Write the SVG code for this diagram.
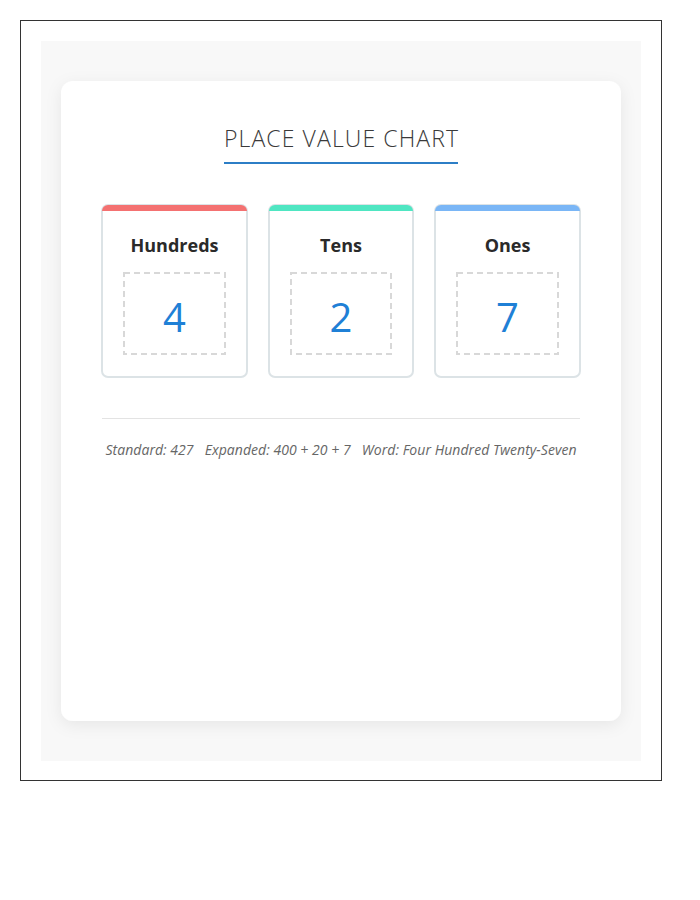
<svg xmlns="http://www.w3.org/2000/svg" width="700" height="900" viewBox="0 0 700 900">
<defs>
<filter id="sh" x="-10%" y="-10%" width="120%" height="120%">
<feDropShadow dx="0" dy="4" stdDeviation="8" flood-color="#000" flood-opacity="0.07"/>
</filter>
<clipPath id="c1"><rect x="102" y="205" width="145" height="172" rx="6"/></clipPath>
<clipPath id="c2"><rect x="269" y="205" width="144" height="172" rx="6"/></clipPath>
<clipPath id="c3"><rect x="435" y="205" width="145" height="172" rx="6"/></clipPath>
</defs>
<style>
.lbl{font-family:"Open Sans","Liberation Sans",sans-serif;font-weight:700;font-size:18px;fill:#2a2a2a;text-anchor:middle}
.num{font-family:"Open Sans","Liberation Sans",sans-serif;font-size:40px;fill:#1f80d6;text-anchor:middle}
.card{fill:#fff;stroke:#dce3e6;stroke-width:2}
.dash{fill:none;stroke:#d8d8d8;stroke-width:2;stroke-dasharray:6 4}
</style>
<rect x="0" y="0" width="700" height="900" fill="#fff"/>
<rect x="20.5" y="20.5" width="641" height="760" fill="#fff" stroke="#333" stroke-width="1"/>
<rect x="41" y="41" width="600" height="720" fill="#f8f8f8"/>
<rect x="61" y="81" width="560" height="640" rx="12" fill="#fff" filter="url(#sh)"/>
<g id="title">
<text x="341" y="147" font-family="'Open Sans','Liberation Sans',sans-serif" font-weight="300" font-size="23" textLength="234" lengthAdjust="spacing" fill="#3a3a3a" text-anchor="middle">PLACE VALUE CHART</text>
<rect x="224" y="162" width="234" height="2" fill="#2c7ec6"/>
</g>
<g id="hundreds">
<rect class="card" x="102" y="205" width="145" height="172" rx="6"/>
<rect x="102" y="205" width="145" height="6" fill="#f47171" clip-path="url(#c1)"/>
<text class="lbl" x="174.5" y="252">Hundreds</text>
<rect class="dash" x="124" y="273" width="101" height="81"/>
<text class="num" x="174.5" y="332">4</text>
</g>
<g id="tens">
<rect class="card" x="269" y="205" width="144" height="172" rx="6"/>
<rect x="269" y="205" width="144" height="6" fill="#4fe6c2" clip-path="url(#c2)"/>
<text class="lbl" x="341" y="252">Tens</text>
<rect class="dash" x="291" y="273" width="100" height="81"/>
<text class="num" x="341" y="332">2</text>
</g>
<g id="ones">
<rect class="card" x="435" y="205" width="145" height="172" rx="6"/>
<rect x="435" y="205" width="145" height="6" fill="#7ab6f6" clip-path="url(#c3)"/>
<text class="lbl" x="507.5" y="252">Ones</text>
<rect class="dash" x="457" y="273" width="101" height="81"/>
<text class="num" x="507.5" y="332">7</text>
</g>
<g id="connectors"></g>
<line x1="102" y1="418.5" x2="580" y2="418.5" stroke="#e3e3e3" stroke-width="1"/>
<text x="341" y="455" font-family="'Open Sans','Liberation Sans',sans-serif" font-style="italic" font-size="14" fill="#666" text-anchor="middle" textLength="471" lengthAdjust="spacing" xml:space="preserve">Standard: 427   Expanded: 400 + 20 + 7   Word: Four Hundred Twenty-Seven</text>
</svg>
